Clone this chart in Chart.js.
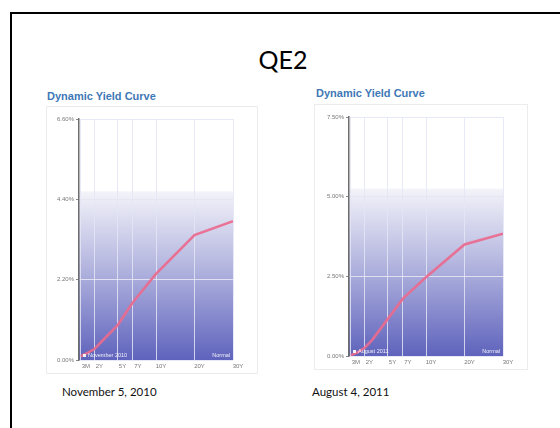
<!DOCTYPE html>
<html>
<head>
<meta charset="utf-8">
<script src="https://cdn.jsdelivr.net/npm/chart.js@4/dist/chart.umd.min.js"></script>
<style>
  html, body { margin: 0; padding: 0; background: #fff; }
  body { width: 560px; height: 428px; overflow: hidden; position: relative; font-family: "Liberation Sans", Arial, sans-serif; }
  .slide { position: absolute; left: 10px; top: 12px; width: 620px; height: 480px; border: 2px solid #000; box-sizing: border-box; }
  .heading { position: absolute; left: 0; width: 566px; top: 44px; text-align: center; font: 25px Lato, "Open Sans", sans-serif; color: #000; }
  .ctitle { position: absolute; font: bold 11px "Liberation Sans", Arial, sans-serif; color: #3f78b6; white-space: nowrap; }
  .panel { position: absolute; background: #fff; border: 1px solid #ececec; box-sizing: border-box; }
  .panel canvas { position: absolute; left: 0; top: 0; }
  .caption { position: absolute; font: 11.5px Lato, "Open Sans", sans-serif; color: #111; white-space: nowrap; }
</style>
</head>
<body>
<div class="slide"></div>
<div class="heading">QE2</div>

<div class="ctitle" style="left:47px; top:90px;">Dynamic Yield Curve</div>
<div class="panel" style="left:46px; top:106px; width:212px; height:268px;"><canvas id="c1"></canvas></div>
<div class="caption" style="left:62px; top:385px;">November 5, 2010</div>

<div class="ctitle" style="left:316px; top:87px;">Dynamic Yield Curve</div>
<div class="panel" style="left:314px; top:104px; width:214px; height:266px;"><canvas id="c2"></canvas></div>
<div class="caption" style="left:312px; top:385px;">August 4, 2011</div>

<script>
// Treasury maturities in years (3M ... 30Y)
const maturities = [0.25, 0.5, 1, 2, 3, 5, 7, 10, 20, 30];
// Labelled maturities on the horizontal axis
const tickYears  = [0.25, 2, 5, 7, 10, 20, 30];
const tickLabels = ['3M', '2Y', '5Y', '7Y', '10Y', '20Y', '30Y'];

// Yields (%) on each date
const yieldsNov2010 = [0.10, 0.13, 0.18, 0.30, 0.52, 0.95, 1.58, 2.36, 3.42, 3.80];
const yieldsAug2011 = [0.02, 0.05, 0.10, 0.25, 0.50, 1.15, 1.80, 2.47, 3.50, 3.84];

// Vertical axis ranges and steps
const yMaxNov = 6.6, yStepNov = 2.2;
const yMaxAug = 7.5, yStepAug = 2.5;

// Maturity axis: the first 10 years take half the width, 10Y-30Y the other half
function maturityFraction(years) {
  return years <= 10 ? years / 20 : 0.5 + (years - 10) / 40;
}

class MaturityScale extends Chart.LinearScale {
  static id = 'maturity';
  static defaults = Chart.LinearScale.defaults;
  buildTicks() {
    return tickYears.map(v => ({ value: v }));
  }
  getPixelForValue(value) {
    return this.getPixelForDecimal(maturityFraction(value));
  }
  getValueForPixel(pixel) {
    const f = this.getDecimalForPixel(pixel);
    return f <= 0.5 ? f * 20 : 10 + (f - 0.5) * 40;
  }
}
Chart.register(MaturityScale);

// Shaded backdrop behind the curve: white at the top fading to blue-violet
const backdrop = {
  id: 'backdrop',
  beforeDraw(chart) {
    const { ctx, chartArea: a } = chart;
    const top = a.bottom - a.height * 0.70;
    const g = ctx.createLinearGradient(0, top, 0, a.bottom);
    g.addColorStop(0, '#f3f3f9');
    g.addColorStop(0.45, '#b3b5df');
    g.addColorStop(1, '#5f63bc');
    ctx.save();
    ctx.fillStyle = g;
    ctx.fillRect(a.left, top, a.right - a.left, a.bottom - top);
    ctx.restore();
  }
};

// Small white notes along the bottom of the plot
const notes = {
  id: 'notes',
  afterDatasetsDraw(chart, args, opts) {
    const { ctx, chartArea: a } = chart;
    ctx.save();
    ctx.fillStyle = 'rgba(255,255,255,0.9)';
    ctx.font = '5.5px "Liberation Sans", Arial, sans-serif';
    ctx.textBaseline = 'alphabetic';
    ctx.fillRect(a.left + 4, a.bottom - 6, 3, 3);
    ctx.textAlign = 'left';
    ctx.fillText(opts.left, a.left + 9, a.bottom - 3);
    ctx.textAlign = 'right';
    ctx.fillText(opts.right, a.right - 3, a.bottom - 3);
    ctx.restore();
  }
};

function makeChart(id, values, yMax, yStep, yWidth, leftNote, rightNote) {
  const points = maturities.map((m, i) => ({ x: m, y: values[i] }));
  return new Chart(document.getElementById(id), {
    type: 'line',
    data: {
      datasets: [{
        data: points,
        borderColor: 'rgba(234,106,142,0.92)',
        borderWidth: 2.6,
        pointRadius: 0,
        tension: 0,
        fill: false
      }]
    },
    options: {
      responsive: true,
      maintainAspectRatio: false,
      animation: false,
      events: [],
      layout: { padding: { top: 12, right: 24, bottom: 1, left: 0 } },
      plugins: {
        legend: { display: false },
        tooltip: { enabled: false },
        notes: { left: leftNote, right: rightNote }
      },
      scales: {
        x: {
          type: 'maturity',
          min: 0,
          max: 30,
          afterFit(s) { s.height = 12; },
          grid: { color: 'rgba(228,229,244,0.85)', lineWidth: 1, drawTicks: false },
          border: { display: false },
          ticks: {
            callback: (v, i) => tickLabels[i],
            font: { size: 6, family: '"Liberation Sans", Arial, sans-serif' },
            color: '#777',
            padding: 3,
            labelOffset: 5,
            maxRotation: 0,
            autoSkip: false
          }
        },
        y: {
          min: 0,
          max: yMax,
          afterFit(s) { s.width = yWidth; },
          grid: { color: 'rgba(228,229,244,0.9)', lineWidth: 1, tickLength: 3, tickColor: '#888' },
          border: { display: true, color: '#6d6d6d', width: 1.5 },
          ticks: {
            stepSize: yStep,
            callback: v => v.toFixed(2) + '%',
            font: { size: 6, family: '"Liberation Sans", Arial, sans-serif' },
            color: '#777',
            padding: 2
          }
        }
      }
    },
    plugins: [backdrop, notes]
  });
}

makeChart('c1', yieldsNov2010, yMaxNov, yStepNov, 32, 'November 2010', 'Normal');
makeChart('c2', yieldsAug2011, yMaxAug, yStepAug, 34, 'August 2011', 'Normal');
</script>
</body>
</html>
